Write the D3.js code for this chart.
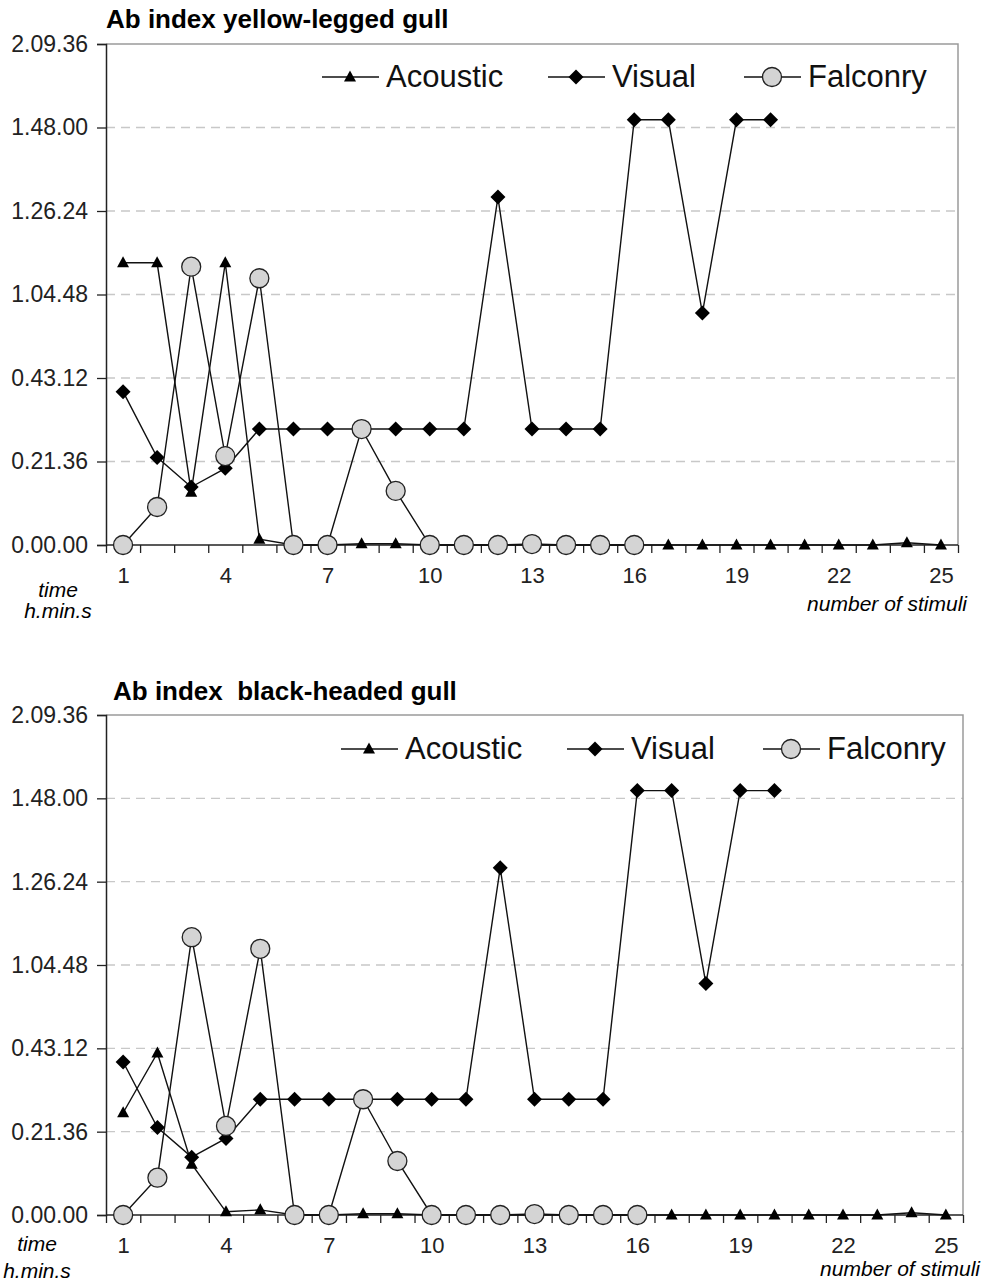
<!DOCTYPE html>
<html>
<head>
<meta charset="utf-8">
<script src="https://cdn.jsdelivr.net/npm/d3@7"></script>
<style>
    body { margin: 0; background: #fff; }
    svg { display: block; font-family: "Liberation Sans", Arial, sans-serif; }
</style>
</head>
<body>
<svg id="chart" width="984" height="1285"></svg>
<script>
// categories and ticks
const stimuli = [1, 2, 3, 4, 5, 6, 7, 8, 9, 10, 11, 12, 13, 14, 15, 16, 17, 18, 19, 20, 21, 22, 23, 24, 25];
const labelTicks = [1, 4, 7, 10, 13, 16, 19, 22, 25];
const timeTicks = [0, 1296, 2592, 3888, 5184, 6480, 7776]; // seconds -> h.min.s
const seriesNames = ['Acoustic', 'Visual', 'Falconry'];

// yellow-legged gull (seconds)
const yellowAcoustic = [4380, 4380, 820, 4380, 90, 0, 0, 20, 20, 0, 0, 0, 0, 0, 0, 0, 0, 0, 0, 0, 0, 0, 0, 35, 0];
const yellowVisual = [2380, 1360, 900, 1190, 1800, 1800, 1800, 1800, 1800, 1800, 1800, 5400, 1800, 1800, 1800, 6600, 6600, 3600, 6600, 6600, null, null, null, null, null];
const yellowFalconry = [0, 590, 4320, 1380, 4140, 0, 0, 1800, 840, 0, 0, 0, 15, 0, 0, 0, null, null, null, null, null, null, null, null, null];

// black-headed gull (seconds)
const blackAcoustic = [1590, 2520, 790, 50, 80, 0, 0, 20, 20, 0, 0, 0, 0, 0, 0, 0, 0, 0, 0, 0, 0, 0, 0, 35, 0];
const blackVisual = [2380, 1360, 900, 1190, 1800, 1800, 1800, 1800, 1800, 1800, 1800, 5400, 1800, 1800, 1800, 6600, 6600, 3600, 6600, 6600, null, null, null, null, null];
const blackFalconry = [0, 580, 4320, 1385, 4140, 0, 0, 1800, 840, 0, 0, 0, 15, 0, 0, 0, null, null, null, null, null, null, null, null, null];

const svg = d3.select('#chart');
const shapes = ['triangle', 'diamond', 'circle'];

const pad2 = n => String(n).padStart(2, '0');
function fmtTime(s) {
    const h = Math.floor(s / 3600);
    const m = Math.floor((s % 3600) / 60);
    return `${h}.${pad2(m)}.${pad2(s % 60)}`;
}

function drawMarker(g, shape, x, y) {
    switch (shape) {
        case 'triangle':
            return g.append('path')
                .attr('d', `M${x},${y - 6.5}L${x + 6},${y + 4.5}L${x - 6},${y + 4.5}Z`)
                .attr('fill', '#000');
        case 'diamond':
            return g.append('path')
                .attr('d', `M${x},${y - 7.5}L${x + 7.5},${y}L${x},${y + 7.5}L${x - 7.5},${y}Z`)
                .attr('fill', '#000');
        case 'circle':
            return g.append('circle')
                .attr('cx', x).attr('cy', y).attr('r', 9.5)
                .attr('fill', '#d4d4d4').attr('stroke', '#222').attr('stroke-width', 1.3);
    }
}

function drawChart(cfg, series) {
    const x = d3.scaleLinear().domain([0.5, 25.5]).range([cfg.left, cfg.right]);
    const y = d3.scaleLinear().domain([0, 7776]).range([cfg.bottom, cfg.top]);
    const g = svg.append('g');

    g.append('text')
        .attr('x', cfg.titleX).attr('y', cfg.titleY)
        .attr('font-size', 26).attr('font-weight', 'bold')
        .style('white-space', 'pre')
        .text(cfg.title);

    // grid
    g.append('g').selectAll('line')
        .data(timeTicks.slice(1, -1))
        .join('line')
        .attr('x1', cfg.left).attr('x2', cfg.right)
        .attr('y1', d => y(d)).attr('y2', d => y(d))
        .attr('stroke', '#c8c8c8').attr('stroke-width', 1.3)
        .attr('stroke-dasharray', '9,6');

    // frame top/right
    g.append('path')
        .attr('d', `M${cfg.left},${cfg.top}H${cfg.right}V${cfg.bottom}`)
        .attr('fill', 'none').attr('stroke', '#9a9a9a').attr('stroke-width', 1.5);

    const yAxis = g.append('g')
        .attr('transform', `translate(${cfg.left},0)`)
        .call(d3.axisLeft(y).tickValues(timeTicks).tickSize(9).tickPadding(9).tickFormat(fmtTime));
    yAxis.select('.domain').attr('stroke', '#222').attr('stroke-width', 1.5);
    yAxis.selectAll('.tick line').attr('stroke', '#222').attr('stroke-width', 1.3);
    yAxis.selectAll('text').attr('font-size', 23).attr('fill', '#222').attr('font-family', null);

    const xAxis = g.append('g')
        .attr('transform', `translate(0,${cfg.bottom})`)
        .call(d3.axisBottom(x).tickValues(d3.range(0.5, 26, 1)).tickSize(8).tickFormat(''));
    xAxis.select('.domain').attr('stroke', '#222').attr('stroke-width', 1.5).attr('d', `M${cfg.left},0H${cfg.right}`);
    xAxis.selectAll('.tick line').attr('stroke', '#222').attr('stroke-width', 1.3);

    const xLabels = g.append('g')
        .attr('transform', `translate(0,${cfg.bottom})`)
        .call(d3.axisBottom(x).tickValues(labelTicks).tickSize(0).tickPadding(22));
    xLabels.select('.domain').remove();
    xLabels.selectAll('text').attr('font-size', 22).attr('fill', '#222').attr('font-family', null);

    g.append('text')
        .attr('x', cfg.timeX).attr('y', cfg.timeY)
        .attr('text-anchor', 'middle').attr('font-style', 'italic').attr('font-size', 21)
        .text('time');
    g.append('text')
        .attr('x', cfg.timeX).attr('y', cfg.timeY + cfg.timeGap)
        .attr('text-anchor', 'middle').attr('font-style', 'italic').attr('font-size', 21)
        .text('h.min.s');
    g.append('text')
        .attr('x', cfg.stimX).attr('y', cfg.stimY)
        .attr('text-anchor', 'end').attr('font-style', 'italic').attr('font-size', 21)
        .text('number of stimuli');

    const line = d3.line()
        .defined(d => d.v != null)
        .x(d => x(d.k)).y(d => y(d.v));

    series.forEach((values, si) => {
        const pts = stimuli.map((k, i) => ({ k, v: values[i] }));
        g.append('path')
            .datum(pts)
            .attr('d', line)
            .attr('fill', 'none').attr('stroke', '#111').attr('stroke-width', 1.4);
        const mg = g.append('g');
        pts.filter(d => d.v != null).forEach(d => drawMarker(mg, shapes[si], x(d.k), y(d.v)));
    });

    // legend
    seriesNames.forEach((name, i) => {
        const lx = cfg.legendX[i];
        g.append('line')
            .attr('x1', lx).attr('x2', lx + 57)
            .attr('y1', cfg.legendY).attr('y2', cfg.legendY)
            .attr('stroke', '#111').attr('stroke-width', 1.4);
        drawMarker(g, shapes[i], lx + 28, cfg.legendY);
        g.append('text')
            .attr('x', lx + 64).attr('y', cfg.legendY + 10)
            .attr('font-size', 31).attr('fill', '#111')
            .text(name);
    });
}

drawChart({
    title: 'Ab index yellow-legged gull', titleX: 106, titleY: 28,
    left: 106, right: 958, top: 44, bottom: 545,
    legendX: [322, 548, 744], legendY: 77,
    timeX: 58, timeY: 597, timeGap: 21, stimX: 967, stimY: 611
}, [yellowAcoustic, yellowVisual, yellowFalconry]);

drawChart({
    title: 'Ab index  black-headed gull', titleX: 113, titleY: 700,
    left: 106, right: 963, top: 715, bottom: 1215,
    legendX: [341, 567, 763], legendY: 749,
    timeX: 37, timeY: 1251, timeGap: 27, stimX: 980, stimY: 1276
}, [blackAcoustic, blackVisual, blackFalconry]);
</script>
</body>
</html>
